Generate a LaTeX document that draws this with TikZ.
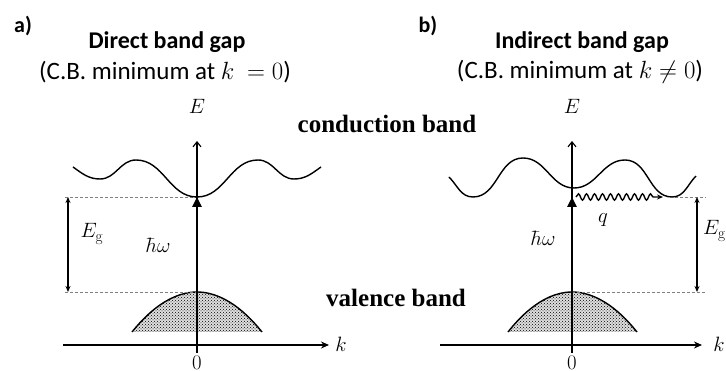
\documentclass[tikz,border=0pt]{standalone}
\usepackage{fontspec}
\newfontfamily\titlefont{Carlito}
\newfontfamily\bandfont{Liberation Serif}
\usepackage{tikz}
\usetikzlibrary{arrows.meta, patterns, decorations.pathmorphing}
\tikzset{
  kaxis/.style={line width=1.1pt, -{Stealth[length=8pt,width=7pt]}},
  eaxis/.style={line width=1.1pt, -{Straight Barb[length=5pt,width=8pt]}},
  band/.style={line width=1.4pt},
  valence/.style={fill=gray!25, postaction={pattern=crosshatch dots, pattern color=black}},
  level/.style={densely dashed, gray, line width=0.8pt},
  gaparrow/.style={line width=1.1pt, {Stealth[length=6pt,width=5pt]}-{Stealth[length=6pt,width=5pt]}},
  photon/.style={line width=2.8pt, -{Triangle[length=10pt,width=9pt]}},
  phonon/.style={line width=1.4pt, -{Stealth[length=6pt,width=5pt]}, decorate,
                 decoration={snake, amplitude=3.2pt, segment length=8pt, post length=7pt}},
  title/.style={font=\titlefont\bfseries\fontsize{24}{28}\selectfont},
  tag/.style={font=\titlefont\bfseries\fontsize{22}{26}\selectfont},
  subtitle/.style={font=\titlefont\fontsize{25}{30}\selectfont},
  bandname/.style={font=\bandfont\bfseries\fontsize{25}{30}\selectfont},
  mlabel/.style={font=\fontsize{22}{26}\selectfont, inner sep=1pt},
}
\begin{document}
\begin{tikzpicture}[x=1pt, y=1pt]
  \useasboundingbox (0,0) rectangle (726,371);

  % panel a) direct gap
  \coordinate (oa) at (197,26);
  \coordinate (vba) at (197,79);
  \coordinate (cba) at (197,174);
  \fill[valence] (132,39) parabola bend (vba) (262,39) -- cycle;
  \draw[band] (132,39) parabola bend (vba) (262,39);
  \draw[level] (65,174) -- (cba);
  \draw[level] (65,79) -- (vba);
  \coordinate (kla) at (63,26);
  \coordinate (kra) at (329,26);
  \coordinate (eba) at (197,18);
  \coordinate (eta) at (197,230);
  \draw[kaxis] (kla) -- (kra);
  \draw[eaxis] (eba) -- (eta);
  \draw[band] (73,204) to[out=-35,in=180] (100,192) to[out=0,in=180] (136,211)
    to[out=0,in=180] (cba) to[out=0,in=180] (258,211) to[out=0,in=180] (294,192)
    to[out=0,in=215] (321,204);
  \draw[photon] (vba) -- (cba);
  \coordinate (gta) at (68,174);
  \coordinate (gba) at (68,79);
  \draw[gaparrow] (gba) -- (gta);

  \node[mlabel] (Ea) at (197,265) {$E$};
  \node[mlabel] (ka) at (341,27) {$k$};
  \node[mlabel] (za) at (197,8) {$0$};
  \node[mlabel] (Ega) at (92,137) {$E_{\mathrm{g}}$};
  \node[mlabel] (hwa) at (158,126) {$\hbar\omega$};
  \node[tag] (la) at (23,345) {a)};
  \node[title] (ta) at (167,329) {Direct band gap};
  \node[subtitle] (sa) at (165,299) {(C.B. minimum at $k\ = 0$)};

  % shared band names
  \node[bandname] (cbname) at (387,247) {conduction band};
  \node[bandname] (vbname) at (396,73) {valence band};

  % panel b) indirect gap
  \coordinate (vbb) at (572,79);
  \coordinate (cbb) at (572,174);
  \coordinate (cbm) at (672,174);
  \fill[valence] (508,39) parabola bend (vbb) (637,39) -- cycle;
  \draw[band] (508,39) parabola bend (vbb) (637,39);
  \draw[level] (vbb) -- (706,79);
  \draw[level] (675,174) -- (706,174);
  \coordinate (klb) at (440,26);
  \coordinate (krb) at (702,26);
  \coordinate (ebb) at (572,18);
  \coordinate (etb) at (572,230);
  \draw[kaxis] (klb) -- (krb);
  \draw[eaxis] (ebb) -- (etb);
  \draw[band] (449,194) to[out=-45,in=180] (473,174) to[out=0,in=180] (523,213)
    to[out=0,in=180] (574,183) to[out=0,in=180] (625,211) to[out=0,in=180] (cbm)
    to[out=0,in=225] (696,195);
  \draw[photon] (vbb) -- (cbb);
  \coordinate (qs) at (576,174);
  \coordinate (qe) at (663,174);
  \draw[phonon] (qs) -- (qe);
  \coordinate (gtb) at (697,174);
  \coordinate (gbb) at (697,79);
  \draw[gaparrow] (gbb) -- (gtb);

  \node[mlabel] (Eb) at (572,265) {$E$};
  \node[mlabel] (kb) at (719,27) {$k$};
  \node[mlabel] (zb) at (572,8) {$0$};
  \node[mlabel, anchor=west] (Egb) at (702,140) {$E_{\mathrm{g}}$};
  \node[mlabel] (qb) at (603,151) {$q$};
  \node[mlabel] (hwb) at (543,133) {$\hbar\omega$};
  \node[tag] (lb) at (428,345) {b)};
  \node[title] (tb) at (582,329) {Indirect band gap};
  \node[subtitle] (sb) at (580,299) {(C.B. minimum at $k \neq 0$)};
\end{tikzpicture}
\end{document}
